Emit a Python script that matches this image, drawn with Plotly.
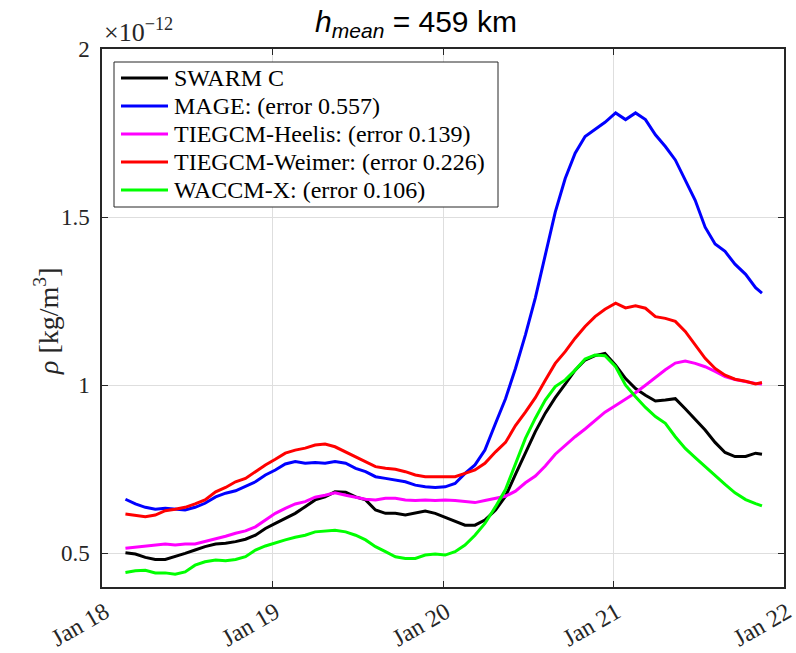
import pandas as pd
import plotly.graph_objects as go

# Sample times, hours after 2024-01-18 00:00 UT
hours = [3.3, 4.7, 6.1, 7.5, 8.9, 10.3, 11.7, 13.1, 14.5, 16.0,
         17.4, 18.8, 20.2, 21.6, 23.0, 24.4, 25.8, 27.2, 28.6, 30.0,
         31.4, 32.8, 34.3, 35.7, 37.1, 38.5, 39.9, 41.3, 42.7, 44.1,
         45.5, 46.9, 48.3, 49.7, 51.1, 52.5, 53.9, 55.4, 56.8, 58.2,
         59.6, 61.0, 62.4, 63.8, 65.2, 66.6, 68.0, 69.4, 70.8, 72.3,
         73.7, 75.1, 76.5, 77.9, 79.3, 80.7, 82.1, 83.5, 84.9, 86.3,
         87.7, 89.1, 90.6, 92.0, 92.9]

# Neutral density along the orbit, units of 1e-12 kg/m^3
swarm_c = [0.502, 0.498, 0.488, 0.482, 0.482, 0.490, 0.500, 0.510, 0.520, 0.528,
           0.530, 0.535, 0.542, 0.554, 0.574, 0.589, 0.604, 0.619, 0.639, 0.659,
           0.668, 0.683, 0.682, 0.668, 0.659, 0.629, 0.619, 0.619, 0.614, 0.619,
           0.626, 0.619, 0.607, 0.594, 0.584, 0.584, 0.599, 0.629, 0.670, 0.735,
           0.800, 0.862, 0.917, 0.963, 1.003, 1.045, 1.075, 1.088, 1.095, 1.060,
           1.020, 0.990, 0.970, 0.953, 0.956, 0.960, 0.930, 0.900, 0.867, 0.830,
           0.800, 0.788, 0.788, 0.798, 0.795]

mage = [0.661, 0.647, 0.637, 0.631, 0.634, 0.631, 0.629, 0.637, 0.649, 0.668,
        0.679, 0.686, 0.700, 0.713, 0.733, 0.748, 0.766, 0.773, 0.768, 0.770,
        0.768, 0.773, 0.768, 0.753, 0.743, 0.728, 0.723, 0.718, 0.713, 0.703,
        0.698, 0.696, 0.698, 0.708, 0.738, 0.763, 0.807, 0.887, 0.960, 1.050,
        1.150, 1.260, 1.390, 1.515, 1.615, 1.690, 1.740, 1.762, 1.782, 1.810,
        1.790, 1.810, 1.790, 1.745, 1.710, 1.670, 1.610, 1.550, 1.470, 1.420,
        1.398, 1.360, 1.330, 1.290, 1.274]

tiegcm_heelis = [0.515, 0.518, 0.520, 0.525, 0.528, 0.525, 0.528, 0.528, 0.535, 0.542,
                 0.551, 0.560, 0.567, 0.579, 0.599, 0.619, 0.634, 0.647, 0.654, 0.667,
                 0.673, 0.680, 0.673, 0.667, 0.661, 0.659, 0.664, 0.664, 0.659, 0.657,
                 0.659, 0.657, 0.659, 0.657, 0.654, 0.651, 0.657, 0.664, 0.670, 0.685,
                 0.710, 0.730, 0.760, 0.795, 0.822, 0.847, 0.870, 0.895, 0.920, 0.940,
                 0.958, 0.978, 1.000, 1.024, 1.046, 1.066, 1.072, 1.065, 1.055, 1.041,
                 1.026, 1.017, 1.010, 1.005, 1.004]

tiegcm_weimer = [0.617, 0.614, 0.609, 0.614, 0.627, 0.631, 0.637, 0.647, 0.659, 0.683,
                 0.696, 0.713, 0.723, 0.743, 0.763, 0.780, 0.798, 0.807, 0.813, 0.822,
                 0.825, 0.817, 0.802, 0.787, 0.773, 0.758, 0.753, 0.750, 0.743, 0.733,
                 0.728, 0.728, 0.730, 0.728, 0.738, 0.748, 0.768, 0.802, 0.830, 0.880,
                 0.920, 0.963, 1.015, 1.065, 1.100, 1.140, 1.175, 1.204, 1.226, 1.244,
                 1.230, 1.236, 1.229, 1.204, 1.199, 1.190, 1.160, 1.120, 1.080, 1.050,
                 1.030, 1.018, 1.012, 1.004, 1.008]

waccm_x = [0.443, 0.448, 0.450, 0.442, 0.442, 0.438, 0.445, 0.465, 0.475, 0.480,
           0.478, 0.482, 0.490, 0.510, 0.522, 0.532, 0.540, 0.548, 0.554, 0.564,
           0.567, 0.569, 0.564, 0.554, 0.540, 0.520, 0.505, 0.490, 0.485, 0.485,
           0.495, 0.498, 0.495, 0.505, 0.525, 0.554, 0.589, 0.639, 0.690, 0.768,
           0.842, 0.902, 0.956, 0.996, 1.016, 1.045, 1.078, 1.090, 1.088, 1.055,
           1.000, 0.966, 0.934, 0.907, 0.887, 0.847, 0.812, 0.785, 0.758, 0.730,
           0.705, 0.680, 0.660, 0.648, 0.641]

series_names = ["SWARM C",
                "MAGE: (error 0.557)",
                "TIEGCM-Heelis: (error 0.139)",
                "TIEGCM-Weimer: (error 0.226)",
                "WACCM-X: (error 0.106)"]
series_values = [swarm_c, mage, tiegcm_heelis, tiegcm_weimer, waccm_x]
series_colors = ["#000000", "#0000ff", "#ff00ff", "#ff0000", "#00ff00"]

tick_dates = ["2024-01-18", "2024-01-19", "2024-01-20", "2024-01-21", "2024-01-22"]
tick_labels = ["Jan 18", "Jan 19", "Jan 20", "Jan 21", "Jan 22"]
y_ticks = [0.5, 1, 1.5, 2]
y_tick_labels = ["0.5", "1", "1.5", "2"]

times = pd.Timestamp("2024-01-18") + pd.to_timedelta(hours, unit="h")

SERIF = "Liberation Serif"
AXIS_COLOR = "#262626"
W, H = 796, 653
ML, MR, MT, MB = 102, 12, 49, 66
PW, PH = W - ML - MR, H - MT - MB


def px_to_paper(px, py):
    """Pixel position on the page -> paper coordinates of the axes box."""
    return (px - ML) / PW, (H - MB - py) / PH


fig = go.Figure()
for name, vals, color in zip(series_names, series_values, series_colors):
    fig.add_trace(go.Scatter(x=times, y=vals, mode="lines", name=name,
                             line=dict(color=color, width=3), showlegend=False))

fig.update_layout(
    width=W, height=H,
    margin=dict(l=ML, r=MR, t=MT, b=MB, autoexpand=False),
    paper_bgcolor="white", plot_bgcolor="white",
    title=dict(text="<i>h</i><sub><i>mean</i></sub> = 459 km",
               x=416 / W, xanchor="center",
               y=1 - 21 / H, yanchor="middle",
               font=dict(family="Liberation Sans", size=30, color="black"),
               automargin=False),
    showlegend=False,
)

fig.update_xaxes(
    type="date", range=[tick_dates[0], tick_dates[-1]],
    tickvals=tick_dates, ticktext=tick_labels, tickangle=-30,
    ticklabelshift=3, ticklabeloverflow="allow",
    ticks="inside", ticklen=6, tickcolor=AXIS_COLOR, automargin=False,
    showline=True, linecolor=AXIS_COLOR, linewidth=1.5, mirror="ticks",
    showgrid=True, gridcolor="#dedede", gridwidth=1, zeroline=False,
    tickfont=dict(family=SERIF, size=24, color=AXIS_COLOR),
)
fig.update_yaxes(
    range=[0.4, 2], tickvals=y_ticks, ticktext=y_tick_labels,
    ticks="inside", ticklen=6, tickcolor=AXIS_COLOR, ticklabelstandoff=6,
    ticklabeloverflow="allow", automargin=False,
    showline=True, linecolor=AXIS_COLOR, linewidth=1.5, mirror="ticks",
    showgrid=True, gridcolor="#dedede", gridwidth=1, zeroline=False,
    tickfont=dict(family=SERIF, size=23, color=AXIS_COLOR),
)

# y-axis label, placed left of the tick labels
lab_x, lab_y = px_to_paper(46, 322)
fig.add_annotation(text="<i>ρ</i> [kg/m<sup>3</sup>]", xref="paper", yref="paper",
                   x=lab_x, y=lab_y, xanchor="center", yanchor="middle",
                   textangle=-90, showarrow=False,
                   font=dict(family=SERIF, size=28, color=AXIS_COLOR))

# Scale factor label above the y axis
fig.add_annotation(text="×10<sup>−12</sup>", xref="paper", yref="paper",
                   x=0.0, y=1.0, xanchor="left", yanchor="bottom", yshift=0,
                   showarrow=False,
                   font=dict(family=SERIF, size=26, color=AXIS_COLOR))

# Legend box in the upper-left corner of the axes
box_x0, box_y0 = px_to_paper(114, 62)
box_x1, box_y1 = px_to_paper(498, 207)
fig.add_shape(type="rect", xref="paper", yref="paper",
              x0=box_x0, y0=box_y1, x1=box_x1, y1=box_y0,
              line=dict(color=AXIS_COLOR, width=1), fillcolor="white")
row_top, row_pitch = 78, 28
for i, (name, color) in enumerate(zip(series_names, series_colors)):
    row_y = row_top + i * row_pitch
    lx0, ly = px_to_paper(121, row_y)
    lx1, _ = px_to_paper(168, row_y)
    tx, _ = px_to_paper(172, row_y)
    fig.add_shape(type="line", xref="paper", yref="paper",
                  x0=lx0, y0=ly, x1=lx1, y1=ly,
                  line=dict(color=color, width=3))
    fig.add_annotation(text=name, xref="paper", yref="paper",
                       x=tx, y=ly, xanchor="left", yanchor="middle",
                       showarrow=False,
                       font=dict(family=SERIF, size=24, color="black"))

fig.write_html("out.html")
